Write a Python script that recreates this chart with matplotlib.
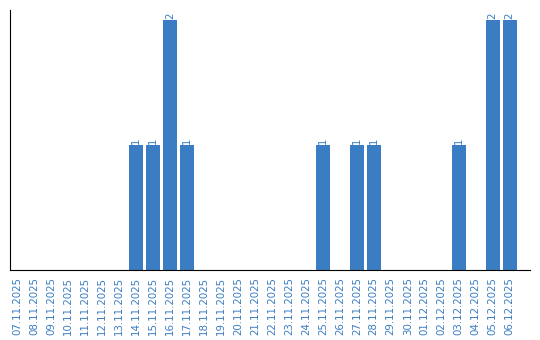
import matplotlib
matplotlib.use("Agg")
import matplotlib.pyplot as plt
import numpy as np

dates = ["07.11.2025", "08.11.2025", "09.11.2025", "10.11.2025", "11.11.2025",
         "12.11.2025", "13.11.2025", "14.11.2025", "15.11.2025", "16.11.2025",
         "17.11.2025", "18.11.2025", "19.11.2025", "20.11.2025", "21.11.2025",
         "22.11.2025", "23.11.2025", "24.11.2025", "25.11.2025", "26.11.2025",
         "27.11.2025", "28.11.2025", "29.11.2025", "30.11.2025", "01.12.2025",
         "02.12.2025", "03.12.2025", "04.12.2025", "05.12.2025", "06.12.2025"]
values = [0, 0, 0, 0, 0, 0, 0, 1, 1, 2,
          1, 0, 0, 0, 0, 0, 0, 0, 1, 0,
          1, 1, 0, 0, 0, 0, 1, 0, 2, 2]

color = "#3b7dc2"

fig = plt.figure(figsize=(5.4, 3.4), dpi=100)
ax = fig.add_axes([0.0194, 0.206, 0.963, 0.764])
x = np.arange(len(dates))
ax.bar(x, values, width=0.82, color=color)
for xi, v in zip(x, values):
    if v > 0:
        ax.text(xi, v + 0.01, str(v), rotation=90, ha="center", va="bottom",
                fontsize=7.4, color=color)
ax.set_xlim(-0.38, 30.22)
ax.set_ylim(0, 2.08)
ax.set_xticks(x)
ax.set_xticklabels(dates, rotation=90, fontsize=7.4, color=color)
ax.tick_params(axis="x", length=0, pad=5)
ax.set_yticks([])
for s in ["top", "right"]:
    ax.spines[s].set_visible(False)
ax.spines["left"].set_color("black")
ax.spines["bottom"].set_color("black")
fig.savefig("out.png", dpi=100)
